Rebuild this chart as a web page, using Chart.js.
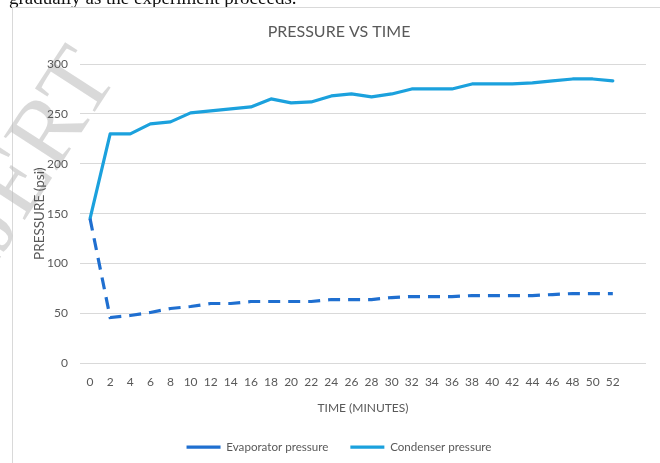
<!DOCTYPE html>
<html>
<head>
<meta charset="utf-8">
<script src="https://cdn.jsdelivr.net/npm/chart.js@4/dist/chart.umd.min.js"></script>
<style>
  html, body { margin: 0; padding: 0; background: #ffffff; }
  #wrap { width: 660px; height: 463px; position: relative; }
</style>
</head>
<body>
<div id="wrap"><canvas id="chart" width="660" height="463"></canvas></div>
<script>
// Elapsed time in minutes
const times = [0, 2, 4, 6, 8, 10, 12, 14, 16, 18, 20, 22, 24, 26, 28, 30, 32, 34, 36, 38, 40, 42, 44, 46, 48, 50, 52];

// Pressure readings in psi
const evaporatorPressure = [145, 46, 48, 51, 55, 57, 60, 60, 62, 62, 62, 62, 64, 64, 64, 66, 67, 67, 67, 68, 68, 68, 68, 69, 70, 70, 70];
const condenserPressure  = [145, 230, 230, 240, 242, 251, 253, 255, 257, 265, 261, 262, 268, 270, 267, 270, 275, 275, 275, 280, 280, 280, 281, 283, 285, 285, 283];

const yTicks = [0, 50, 100, 150, 200, 250, 300];

const textColor = '#595959';
const uiFont = 'Lato, "Open Sans", sans-serif';

function toPoints(values) {
  return times.map((t, i) => ({ x: t, y: values[i] }));
}

// Page furniture around the chart: preceding text line, frame and watermark
const pageDecor = {
  id: 'pageDecor',
  beforeDraw(chart) {
    const ctx = chart.ctx;
    ctx.save();
    ctx.fillStyle = '#ffffff';
    ctx.fillRect(0, 0, chart.width, chart.height);

    // tail of the paragraph above the figure
    ctx.fillStyle = '#111111';
    ctx.font = '19px "Liberation Serif", "Times New Roman", serif';
    ctx.textBaseline = 'alphabetic';
    ctx.textAlign = 'left';
    ctx.fillText('gradually as the experiment proceeds.', 9, 4);

    // figure frame
    ctx.strokeStyle = '#d9d9d9';
    ctx.lineWidth = 1;
    ctx.strokeRect(12.5, 7.5, 700, 500);

    // diagonal watermark
    ctx.font = '96px "Liberation Serif", "Times New Roman", serif';
    const ang = -57 * Math.PI / 180;
    const dx = Math.cos(ang), dy = Math.sin(ang);
    const wIJ = ctx.measureText('IJ').width;
    const wE = ctx.measureText('E').width;
    const cx = 18, cy = 184;
    const ox = cx - dx * (wIJ + wE / 2);
    const oy = cy - dy * (wIJ + wE / 2);
    ctx.translate(ox, oy);
    ctx.rotate(ang);
    ctx.textBaseline = 'middle';
    ctx.fillStyle = 'rgba(185,185,185,0.55)';
    ctx.fillText('IJERT', 0, 0);
    ctx.restore();
  }
};

new Chart(document.getElementById('chart'), {
  type: 'line',
  data: {
    datasets: [
      {
        label: 'Evaporator pressure',
        data: toPoints(evaporatorPressure),
        borderColor: '#1f6fd0',
        backgroundColor: '#1f6fd0',
        borderWidth: 3.2,
        borderDash: [12, 8],
        borderCapStyle: 'butt',
        pointRadius: 0,
        tension: 0,
        fill: false
      },
      {
        label: 'Condenser pressure',
        data: toPoints(condenserPressure),
        borderColor: '#1ba1dd',
        backgroundColor: '#1ba1dd',
        borderWidth: 3.2,
        borderCapStyle: 'round',
        borderJoinStyle: 'round',
        pointRadius: 0,
        tension: 0,
        fill: false
      }
    ]
  },
  options: {
    responsive: false,
    animation: false,
    layout: { padding: { left: 32, right: 14, top: 0, bottom: 0 } },
    plugins: {
      title: {
        display: true,
        text: 'PRESSURE VS TIME',
        color: textColor,
        font: { family: uiFont, size: 16, weight: 'normal' },
        padding: { top: 22, bottom: 22.8 }
      },
      legend: {
        position: 'bottom',
        labels: {
          color: textColor,
          font: { family: uiFont, size: 11.6 },
          usePointStyle: true,
          pointStyle: 'line',
          pointStyleWidth: 34,
          padding: 22
        }
      },
      tooltip: { enabled: false }
    },
    scales: {
      x: {
        type: 'linear',
        min: -1,
        max: 55.3,
        afterBuildTicks(scale) {
          scale.ticks = times.map(t => ({ value: t }));
        },
        afterFit(scale) { scale.height = 56; },
        grid: { display: false, drawTicks: false },
        border: { display: false },
        ticks: {
          color: textColor,
          font: { family: uiFont, size: 12 },
          padding: 12,
          maxRotation: 0,
          autoSkip: false
        },
        title: {
          display: true,
          text: 'TIME (MINUTES)',
          color: textColor,
          font: { family: uiFont, size: 12 },
          padding: { top: 4, bottom: 4 }
        }
      },
      y: {
        min: 0,
        max: 300,
        afterBuildTicks(scale) {
          scale.ticks = yTicks.map(v => ({ value: v }));
        },
        afterFit(scale) { scale.width = 48; },
        grid: { color: '#d9d9d9', lineWidth: 1, drawTicks: false },
        border: { display: false },
        ticks: {
          color: textColor,
          font: { family: uiFont, size: 12 },
          padding: 12
        },
        title: {
          display: true,
          text: 'PRESSURE (psi)',
          color: textColor,
          font: { family: uiFont, size: 13.5 },
          padding: { top: 0, bottom: 0 }
        }
      }
    }
  },
  plugins: [pageDecor]
});
</script>
</body>
</html>
